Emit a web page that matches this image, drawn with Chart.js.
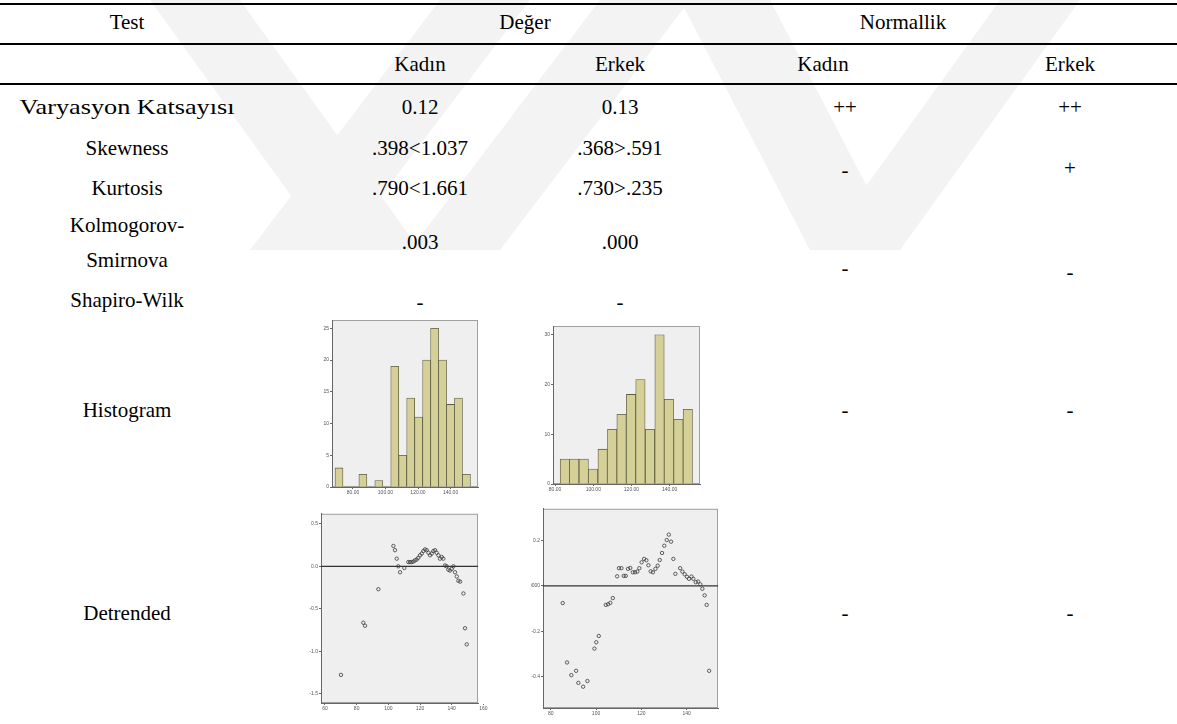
<!DOCTYPE html>
<html>
<head>
<meta charset="utf-8">
<script src="https://cdn.jsdelivr.net/npm/chart.js@4.4.1/dist/chart.umd.min.js"></script>
<style>
  body { margin: 0; background: #fff; width: 1177px; height: 724px; overflow: hidden; position: relative;
         font-family: "Liberation Serif", "Times New Roman", serif; }
  .t { position: absolute; transform: translate(-50%, -50%); white-space: nowrap; font-size: 21px; color: #000; z-index: 2;
       font-family: "Liberation Serif", "Times New Roman", serif; }
  .rule { position: absolute; left: 0; width: 1177px; height: 2px; background: #000; z-index: 2; }
  canvas { position: absolute; z-index: 1; }
  #wm { position: absolute; left: 0; top: 0; z-index: 0; }
</style>
</head>
<body>
<svg id="wm" width="1177" height="260">
  <g fill="#f3f3f3">
    <polygon points="150,0 240,0 420,250 330,250"/>
    <polygon points="440,0 530,0 340,250 250,250"/>
    <polygon points="600,0 690,0 500,250 410,250"/>
    <polygon points="680,0 770,0 900,250 810,250"/>
    <polygon points="1000,0 1080,0 900,250 820,250"/>
  </g>
</svg>
<div class="rule" style="top:3px"></div>
<div class="rule" style="top:43px"></div>
<div class="rule" style="top:83px"></div>
<canvas id="histKadin"></canvas>
<canvas id="histErkek"></canvas>
<canvas id="detKadin"></canvas>
<canvas id="detErkek"></canvas>
<script>
// table texts
const headerTexts = ['Test', 'Değer', 'Normallik'];
const subHeaderTexts = ['Kadın', 'Erkek', 'Kadın', 'Erkek'];
const rowLabels = ['Varyasyon Katsayısı', 'Skewness', 'Kurtosis', 'Kolmogorov-', 'Smirnova', 'Shapiro-Wilk', 'Histogram', 'Detrended'];
const kadinValues = ['0.12', '.398<1.037', '.790<1.661', '.003', '-'];
const erkekValues = ['0.13', '.368>.591', '.730>.235', '.000', '-'];
const normalKadin = ['++', '-', '-', '-', '-'];
const normalErkek = ['++', '+', '-', '-', '-'];

// histogram data (bin centres and counts)
const kadinBins = [71.4, 76.3, 81.2, 86.1, 91.0, 95.9, 100.8, 105.7, 110.6, 115.5, 120.4, 125.3, 130.2, 135.1, 140.0, 144.9, 149.8];
const kadinCounts = [3, 0, 0, 2, 0, 1, 0, 19, 5, 14, 11, 20, 25, 20, 13, 14, 2];
const erkekBins = [85.1, 90.0, 95.0, 99.9, 104.9, 109.9, 114.8, 119.8, 124.7, 129.7, 134.7, 139.6, 144.6, 149.5];
const erkekCounts = [5, 5, 5, 3, 7, 11, 14, 18, 21, 11, 30, 17, 13, 15];
const histXTicks = [80, 100, 120, 140];
const histXLabels = ['80.00', '100.00', '120.00', '140.00'];
const kadinHistYTicks = [0, 5, 10, 15, 20, 25];
const erkekHistYTicks = [0, 10, 20, 30];

// detrended normal Q-Q data
const detKadinX = [70.1, 84.2, 85.3, 93.7, 103.2, 104.2, 105.3, 106.3, 107.4, 110.1, 112.6, 113.7, 114.7, 115.8, 116.8, 117.9,
  118.9, 120.0, 121.1, 122.1, 123.2, 124.2, 125.3, 126.3, 127.4, 128.4, 129.5, 130.5, 131.6, 132.6, 133.7, 134.7, 135.8,
  136.8, 137.9, 138.9, 140.0, 141.1, 142.1, 143.2, 144.2, 145.3, 147.4, 148.4, 149.5];
const detKadinY = [-1.28, -0.665, -0.70, -0.27, 0.24, 0.19, 0.09, 0.0, -0.07, -0.02, 0.05, 0.05, 0.05, 0.055, 0.07, 0.08,
  0.10, 0.13, 0.15, 0.18, 0.20, 0.19, 0.16, 0.13, 0.15, 0.18, 0.19, 0.16, 0.13, 0.09, 0.11, 0.09, 0.01,
  0.0, -0.04, -0.05, -0.03, 0.0, -0.07, -0.12, -0.17, -0.18, -0.32, -0.73, -0.92];
const detErkekX = [85.3, 87.2, 89.1, 91.2, 92.2, 94.3, 96.2, 99.3, 100.1, 101.2, 104.3, 105.3, 106.3, 107.4, 109.3, 110.1,
  111.2, 112.2, 113.1, 114.1, 115.1, 116.2, 117.2, 118.2, 119.1, 120.1, 121.2, 122.2, 123.1, 124.1, 125.1, 126.2, 127.2,
  128.1, 129.1, 130.1, 131.2, 132.1, 133.1, 134.1, 135.0, 137.1, 138.1, 139.1, 140.1, 141.0, 142.1, 142.9, 144.0, 145.0,
  146.0, 146.9, 147.9, 148.8, 149.9];
const detErkekY = [-0.076, -0.338, -0.394, -0.375, -0.428, -0.445, -0.42, -0.277, -0.249, -0.221, -0.084, -0.081, -0.075,
  -0.054, 0.042, 0.078, 0.078, 0.044, 0.044, 0.075, 0.079, 0.06, 0.06, 0.063, 0.078, 0.104, 0.119, 0.113, 0.091, 0.064,
  0.06, 0.075, 0.089, 0.114, 0.145, 0.177, 0.202, 0.226, 0.195, 0.119, 0.053, 0.078, 0.063, 0.051, 0.04, 0.031, 0.041,
  0.031, 0.016, 0.019, 0.007, -0.013, -0.042, -0.084, -0.375];
const detKadinXTicks = [60, 80, 100, 120, 140, 160];
const detKadinYTicks = [0.5, 0, -0.5, -1.0, -1.5];
const detKadinYLabels = ['0.5', '0.0', '-0.5', '-1.0', '-1.5'];
const detErkekXTicks = [80, 100, 120, 140];
const detErkekYTicks = [0.2, 0, -0.2, -0.4];
const detErkekYLabels = ['0.2', '0.0000', '-0.2', '-0.4'];

// ---- table text placement ----
function place(text, x, y, stretch) {
  const d = document.createElement('div');
  d.className = 't';
  d.textContent = text;
  d.style.left = x + 'px';
  d.style.top = y + 'px';
  if (stretch) d.style.transform = 'translate(-50%, -50%) scaleX(' + stretch + ')';
  document.body.appendChild(d);
}
const colX = [127, 420, 620, 845, 1070];
place(headerTexts[0], 127, 22);
place(headerTexts[1], 525, 22);
place(headerTexts[2], 903, 22);
[420, 620, 823, 1070].forEach((x, i) => place(subHeaderTexts[i], x, 64));
[107, 148, 188, 225, 260, 300, 410, 613].forEach((y, i) => place(rowLabels[i], colX[0], y, i === 0 ? 1.25 : 0));
[107, 148, 188, 242, 302].forEach((y, i) => place(kadinValues[i], colX[1], y));
[107, 148, 188, 242, 302].forEach((y, i) => place(erkekValues[i], colX[2], y));
[107, 170, 268, 410, 613].forEach((y, i) => place(normalKadin[i], colX[3], y));
[107, 168, 272, 410, 613].forEach((y, i) => place(normalErkek[i], colX[4], y));

// ---- small SPSS style charts ----
const PAD = { left: 8, right: 12, top: 4, bottom: 2 };
const YW = 12, XH = 11;

function placeCanvas(id, f) {
  const c = document.getElementById(id);
  c.width = (f.r - f.l) + YW + PAD.left + PAD.right;
  c.height = (f.b - f.t) + XH + PAD.top + PAD.bottom;
  c.style.left = (f.l - YW - PAD.left) + 'px';
  c.style.top = (f.t - PAD.top) + 'px';
  return c;
}

function axis(which, min, max, ticks, labels) {
  return {
    type: 'linear', min: min, max: max, offset: false,
    afterBuildTicks: s => { s.ticks = ticks.map(v => ({ value: v })); },
    afterFit: s => {
      if (which === 'x') s.height = XH; else s.width = YW;
      s.paddingLeft = s.paddingRight = s.paddingTop = s.paddingBottom = 0;
    },
    grid: { display: true, drawOnChartArea: false, drawTicks: true, tickLength: 2, color: '#666', offset: false },
    border: { display: true, color: '#666', width: 1 },
    ticks: {
      font: { size: 5, family: 'Arial, "Liberation Sans", sans-serif' }, color: '#555',
      padding: 1, autoSkip: false, maxRotation: 0,
      callback: (v, i) => labels[i]
    }
  };
}

const framePlugin = {
  id: 'frame',
  beforeDraw(chart) {
    const a = chart.chartArea, ctx = chart.ctx;
    ctx.save();
    ctx.fillStyle = '#efefef';
    ctx.fillRect(a.left, a.top, a.width, a.height);
    ctx.strokeStyle = '#a0a0a0';
    ctx.lineWidth = 1;
    ctx.strokeRect(a.left + 0.5, a.top + 0.5, a.width - 1, a.height - 1);
    ctx.restore();
  }
};

const baseOpts = {
  responsive: false, animation: false, devicePixelRatio: 1,
  layout: { padding: PAD },
  plugins: { legend: { display: false }, tooltip: { enabled: false } }
};

function histogram(id, frame, bins, counts, xr, yr, yTicks) {
  const c = placeCanvas(id, frame);
  new Chart(c, {
    type: 'bar',
    data: {
      datasets: [{
        data: bins.map((b, i) => ({ x: b, y: counts[i] })),
        backgroundColor: '#d5d098',
        borderColor: '#5e5c40',
        borderWidth: 0.8,
        categoryPercentage: 1, barPercentage: 1
      }]
    },
    options: Object.assign({}, baseOpts, {
      scales: {
        x: axis('x', xr[0], xr[1], histXTicks, histXLabels),
        y: axis('y', yr[0], yr[1], yTicks, yTicks.map(String))
      }
    }),
    plugins: [framePlugin]
  });
}

function detrended(id, frame, xs, ys, xr, yr, xTicks, yTicks, yLabels) {
  const c = placeCanvas(id, frame);
  new Chart(c, {
    type: 'scatter',
    data: {
      datasets: [{
        data: xs.map((x, i) => ({ x: x, y: ys[i] })),
        pointStyle: 'circle', pointRadius: 1.7,
        pointBorderWidth: 0.8, pointBorderColor: '#3a3a3a', pointBackgroundColor: 'rgba(0,0,0,0)'
      }, {
        type: 'line',
        data: [{ x: xr[0], y: 0 }, { x: xr[1], y: 0 }],
        borderColor: '#333', borderWidth: 1.2, pointRadius: 0
      }]
    },
    options: Object.assign({}, baseOpts, {
      scales: {
        x: axis('x', xr[0], xr[1], xTicks, xTicks.map(String)),
        y: axis('y', yr[0], yr[1], yTicks, yLabels)
      }
    }),
    plugins: [framePlugin]
  });
}

histogram('histKadin', { l: 332, t: 320, r: 478, b: 487 }, kadinBins, kadinCounts, [67.1, 156.9], [0, 26.3], kadinHistYTicks);
histogram('histErkek', { l: 553, t: 326, r: 700, b: 484 }, erkekBins, erkekCounts, [78.9, 155.9], [0, 31.75], erkekHistYTicks);
detrended('detKadin', { l: 321, t: 513, r: 478, b: 703 }, detKadinX, detKadinY, [57.5, 156.6], [-1.611, 0.619],
  detKadinXTicks, detKadinYTicks, detKadinYLabels);
detrended('detErkek', { l: 543, t: 508, r: 718, b: 708 }, detErkekX, detErkekY, [76.6, 153.8], [-0.539, 0.34],
  detErkekXTicks, detErkekYTicks, detErkekYLabels);
</script>
</body>
</html>
